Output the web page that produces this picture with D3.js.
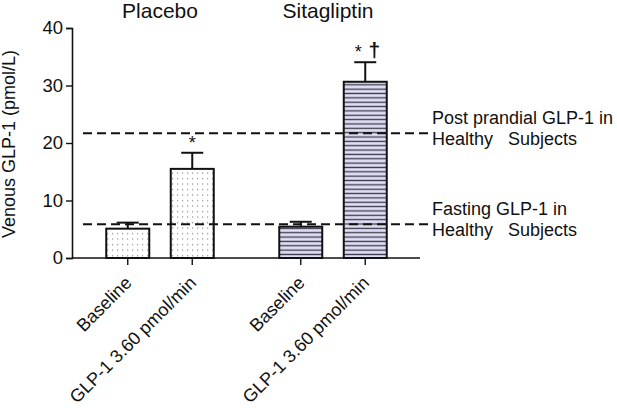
<!DOCTYPE html>
<html>
<head>
<meta charset="utf-8">
<script src="https://cdn.jsdelivr.net/npm/d3@7"></script>
<style>
  html, body { margin: 0; padding: 0; background: #fff; }
  svg { display: block; font-family: "Liberation Sans", Arial, sans-serif; }
</style>
</head>
<body>
<svg id="chart" width="617" height="408"></svg>
<script>
// ---- data ----
const groups = ["Placebo", "Sitagliptin"];
const conditions = ["Baseline", "GLP-1 3.60 pmol/min"];
const placeboMeans = [5.1, 15.5];
const placeboErrors = [1.05, 2.8];
const sitagliptinMeans = [5.45, 30.65];
const sitagliptinErrors = [0.85, 3.4];
const markers = [["", "*"], ["", "*"]];
const daggers = [["", ""], ["", "\u2020"]];
const referenceValues = [21.7, 5.85];
const referenceLabels = [["Post prandial GLP-1 in", "Healthy   Subjects"], ["Fasting GLP-1 in", "Healthy   Subjects"]];
const yTicks = [0, 10, 20, 30, 40];
const yLabel = "Venous GLP-1 (pmol/L)";

const allMeans = [placeboMeans, sitagliptinMeans];
const allErrors = [placeboErrors, sitagliptinErrors];
const data = [];
groups.forEach((g, gi) => conditions.forEach((c, ci) => data.push({
  group: g, gi, cond: c, ci, mean: allMeans[gi][ci], err: allErrors[gi][ci],
  mark: markers[gi][ci], dag: daggers[gi][ci]
})));

const svg = d3.select("#chart");
const defs = svg.append("defs");

// patterns
const dots = defs.append("pattern").attr("id", "dots").attr("patternUnits", "userSpaceOnUse")
  .attr("width", 5).attr("height", 5.5);
dots.append("rect").attr("width", 5).attr("height", 5.5).attr("fill", "#fff");
dots.append("rect").attr("x", 2).attr("y", 2).attr("width", 1.2).attr("height", 1.2).attr("fill", "#8a8a8a");

const stripes = defs.append("pattern").attr("id", "stripes").attr("patternUnits", "userSpaceOnUse")
  .attr("width", 10).attr("height", 4.35);
stripes.append("rect").attr("width", 10).attr("height", 4.35).attr("fill", "#dedef4");
stripes.append("rect").attr("y", 1.5).attr("width", 10).attr("height", 1.3).attr("fill", "#3a3a48");

// scales
const y = d3.scaleLinear().domain([0, 40]).range([258, 28]);
const x0 = d3.scaleBand().domain(groups).range([73.5, 419.5]).padding(0);
const x1 = d3.scalePoint().domain(conditions).range([54.25, 118.75]);
const barW = 43;
const cx = d => x0(d.group) + x1(d.cond);

// y axis
const yAxis = d3.axisLeft(y).tickValues(yTicks).tickSize(6).tickPadding(3);
const gy = svg.append("g").attr("transform", "translate(72,0)").call(yAxis);
gy.select(".domain").attr("stroke", "#111").attr("stroke-width", 1.6);
gy.selectAll(".tick line").attr("stroke", "#111").attr("stroke-width", 1.4);
gy.selectAll(".tick text").attr("font-size", 18.5).attr("fill", "#111")
  .attr("font-family", "'Liberation Sans', Arial, sans-serif");

// x axis line
svg.append("line").attr("x1", 72).attr("x2", 420).attr("y1", y(0)).attr("y2", y(0))
  .attr("stroke", "#111").attr("stroke-width", 1.6);

// x ticks + labels
svg.selectAll(".xtick").data(data).join("line")
  .attr("x1", cx).attr("x2", cx).attr("y1", y(0)).attr("y2", y(0) + 7)
  .attr("stroke", "#111").attr("stroke-width", 1.4);
svg.selectAll(".xlab").data(data).join("text")
  .attr("transform", d => `translate(${cx(d) + 5},${y(0) + 26}) rotate(-45)`)
  .attr("text-anchor", "end")
  .attr("font-size", 18).attr("fill", "#111")
  .text(d => d.cond);

// error bars (drawn before bars)
svg.selectAll(".ebar").data(data).join("line")
  .attr("x1", cx).attr("x2", cx).attr("y1", d => y(d.mean)).attr("y2", d => y(d.mean + d.err))
  .attr("stroke", "#111").attr("stroke-width", 2);
svg.selectAll(".ecap").data(data).join("line")
  .attr("x1", d => cx(d) - 11).attr("x2", d => cx(d) + 11)
  .attr("y1", d => y(d.mean + d.err)).attr("y2", d => y(d.mean + d.err))
  .attr("stroke", "#111").attr("stroke-width", 2);

// bars
svg.selectAll(".bar").data(data).join("rect")
  .attr("x", d => cx(d) - barW / 2).attr("width", barW)
  .attr("y", d => y(d.mean)).attr("height", d => y(0) - y(d.mean))
  .attr("fill", d => d.gi === 0 ? "url(#dots)" : "url(#stripes)")
  .attr("stroke", "#111").attr("stroke-width", 2);

// significance marks
svg.selectAll(".star").data(data.filter(d => d.mark)).join("text")
  .attr("x", d => cx(d) - (d.dag ? 7 : 0)).attr("y", d => y(d.mean + d.err) - 4)
  .attr("text-anchor", "middle").attr("font-size", 18).attr("fill", "#111")
  .text(d => d.mark);
svg.selectAll(".dag").data(data.filter(d => d.dag)).join("text")
  .attr("x", d => cx(d) + 9).attr("y", d => y(d.mean + d.err) - 5)
  .attr("text-anchor", "middle").attr("font-size", 21).attr("font-weight", "bold").attr("fill", "#111")
  .text(d => d.dag);

// reference dashed lines
svg.selectAll(".ref").data(referenceValues).join("line")
  .attr("x1", 83).attr("x2", 429).attr("y1", d => y(d)).attr("y2", d => y(d))
  .attr("stroke", "#111").attr("stroke-width", 2).attr("stroke-dasharray", "9,5");
referenceValues.forEach((v, i) => {
  const t = svg.append("text").attr("x", 432).attr("font-size", 18).attr("fill", "#111")
    .style("white-space", "pre");
  t.append("tspan").attr("x", 432).attr("y", y(v) - 9).text(referenceLabels[i][0]);
  t.append("tspan").attr("x", 432).attr("y", y(v) + 12).text(referenceLabels[i][1]);
});

// group titles
svg.selectAll(".title").data(groups).join("text")
  .attr("x", g => x0(g) + x0.bandwidth() / 2 - (g === "Sitagliptin" ? 5 : 0)).attr("y", 18)
  .attr("text-anchor", "middle").attr("font-size", 21).attr("fill", "#111")
  .text(g => g);

// y label
svg.append("text").attr("transform", `translate(15,144) rotate(-90)`)
  .attr("text-anchor", "middle").attr("font-size", 18).attr("fill", "#111")
  .text(yLabel);
</script>
</body>
</html>
